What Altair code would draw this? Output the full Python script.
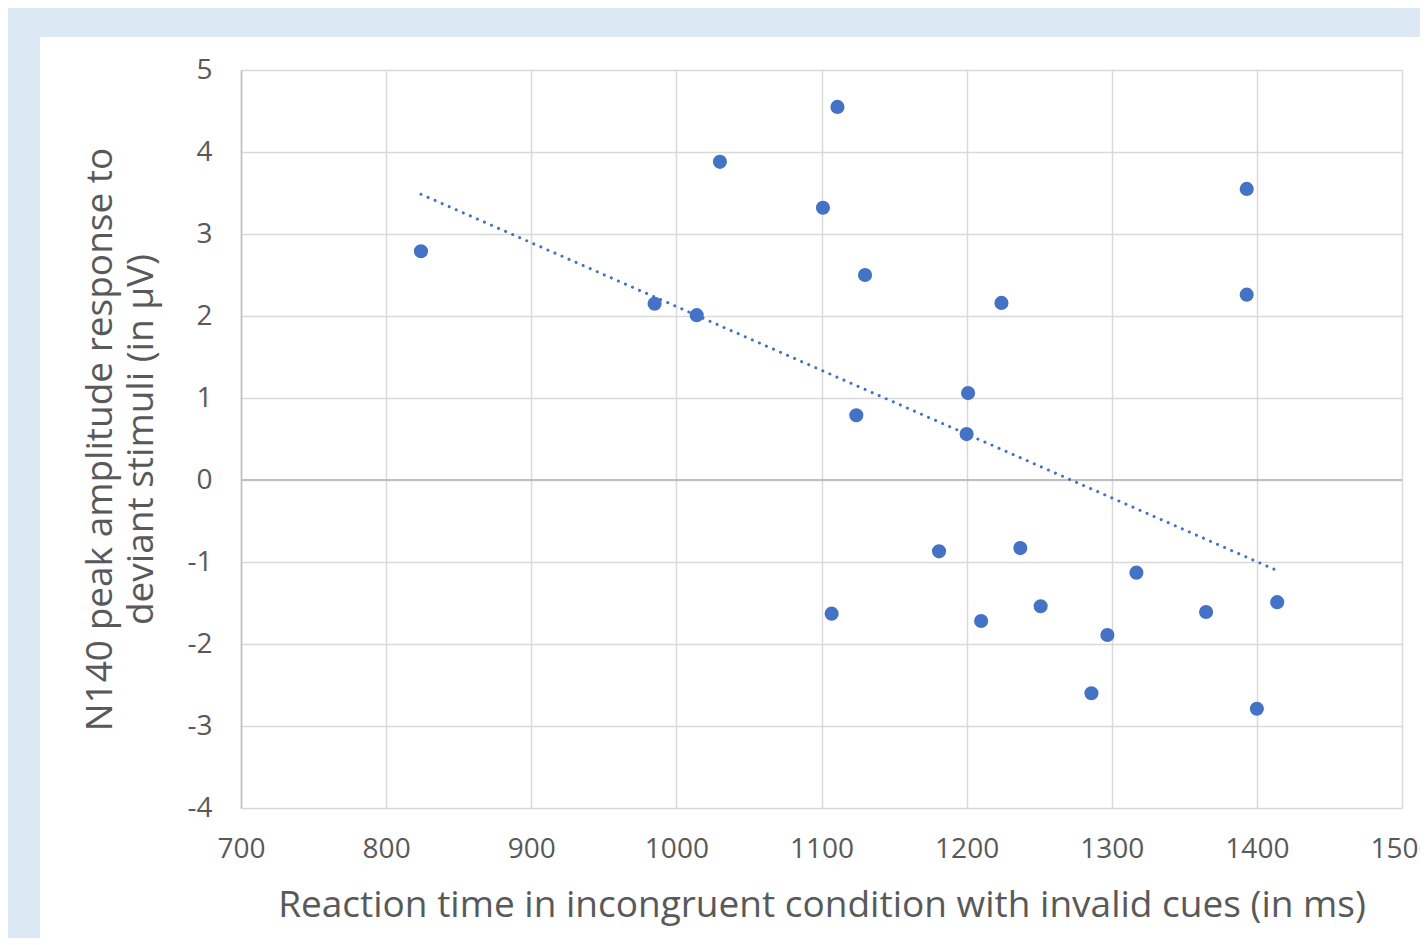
import altair as alt
import pandas as pd

rt_ms = [824, 985, 1014, 1030, 1101, 1111, 1130, 1124, 1107, 1181, 1201, 1200,
         1224, 1210, 1237, 1251, 1286, 1297, 1317, 1365, 1393, 1393, 1400, 1414]
n140_uv = [2.79, 2.15, 2.01, 3.88, 3.32, 4.55, 2.50, 0.79, -1.63, -0.87, 1.06, 0.56,
           2.16, -1.72, -0.83, -1.54, -2.60, -1.89, -1.13, -1.61, 3.55, 2.26, -2.79, -1.49]
x_ticks = [700, 800, 900, 1000, 1100, 1200, 1300, 1400, 1500]
y_ticks = [-4, -3, -2, -1, 0, 1, 2, 3, 4, 5]

df = pd.DataFrame({"rt": rt_ms, "amp": n140_uv})

FONT = "Open Sans"
GREY = "#595959"
BLUE = "#4472c4"
W, H = 1161, 738

xs = alt.Scale(domain=[700, 1500], nice=False, zero=False)
ys = alt.Scale(domain=[-4, 5], nice=False, zero=False)

xaxis = alt.Axis(values=x_ticks, title="Reaction time in incongruent condition with invalid cues (in ms)",
                 labelExpr="'' + datum.value", labelFlush=False, labelOverlap=False, labelBound=False,
                 grid=True, gridColor="#d9d9d9", gridWidth=1.5, domain=False, ticks=False,
                 labelFont=FONT, labelFontSize=28, labelColor=GREY, labelPadding=27,
                 titleFont=FONT, titleFontSize=37, titleFontWeight="normal", titleColor=GREY,
                 titleBaseline="middle", titleY=97)
yaxis = alt.Axis(values=y_ticks, title=["N140 peak amplitude response to", "deviant stimuli (in µV)"],
                 labelExpr="'' + datum.value", labelFlush=False, labelOverlap=False,
                 grid=True, gridColor="#d9d9d9", gridWidth=1.5, domain=True, domainColor="#bfbfbf",
                 domainWidth=1.5, ticks=False,
                 labelFont=FONT, labelFontSize=28, labelColor=GREY, labelPadding=29,
                 titleFont=FONT, titleFontSize=37, titleFontWeight="normal", titleColor=GREY,
                 titleBaseline="middle", titleX=-141, titleLineHeight=41, titleAngle=-90)

blank = alt.Data(values=[{}])
strip_left = alt.Chart(blank).mark_rect(color="#dde8f5").encode(
    x=alt.value(-233), x2=alt.value(-201), y=alt.value(-62), y2=alt.value(H + 130))
strip_top = alt.Chart(blank).mark_rect(color="#dde8f5").encode(
    x=alt.value(-233), x2=alt.value(W + 18), y=alt.value(-62), y2=alt.value(-33))

base = alt.Chart(df)
points = base.mark_circle(size=200, opacity=1, color=BLUE).encode(
    x=alt.X("rt:Q", scale=xs, axis=xaxis),
    y=alt.Y("amp:Q", scale=ys, axis=yaxis),
)
zero = alt.Chart(alt.Data(values=[{"z": 0}])).mark_rule(color="#bfbfbf", strokeWidth=1.8).encode(
    y=alt.Y("z:Q", scale=ys), x=alt.value(0), x2=alt.value(W))
trend = base.transform_regression("rt", "amp").mark_line(
    color=BLUE, strokeWidth=3, strokeDash=[0.1, 7.6], strokeCap="round").encode(
    x=alt.X("rt:Q", scale=xs), y=alt.Y("amp:Q", scale=ys))

chart = alt.layer(strip_left, strip_top, zero, trend, points).properties(
    width=W, height=H,
    padding={"left": 233, "top": 62, "right": 18, "bottom": 130},
    autosize=alt.AutoSizeParams(type="none"),
    background="white",
).configure_view(stroke=None)

chart.save("out.html", embed_options={"renderer": "svg", "actions": False})
